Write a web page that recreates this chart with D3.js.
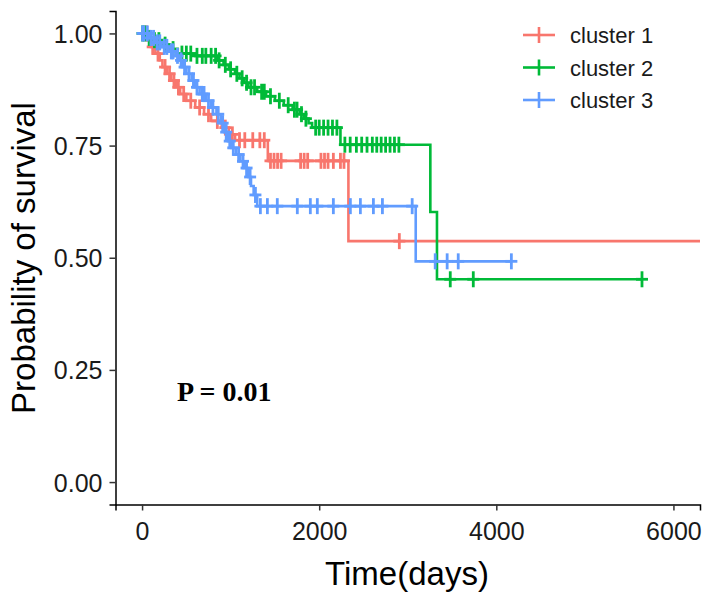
<!DOCTYPE html>
<html>
<head>
<meta charset="utf-8">
<script src="https://cdn.jsdelivr.net/npm/d3@7"></script>
<style>
  html, body { margin: 0; padding: 0; background: #fff; }
  svg { display: block; font-family: "Liberation Sans", Arial, sans-serif; }
</style>
</head>
<body>
<svg id="chart" width="715" height="605"></svg>
<script>
// ---------------- data ----------------
const clusterNames = ["cluster 1", "cluster 2", "cluster 3"];
const clusterColors = ["#F8766D", "#00BA38", "#619CFF"];

const xTicks = [0, 2000, 4000, 6000];
const xTickLabels = ["0", "2000", "4000", "6000"];
const yTicks = [0, 0.25, 0.5, 0.75, 1.0];
const yTickLabels = ["0.00", "0.25", "0.50", "0.75", "1.00"];

// cluster 1 (red)
const c1Times = [0, 60, 100, 150, 200, 230, 280, 330, 380, 430, 500, 600, 700, 780, 900, 980, 1050, 1420, 2330];
const c1Surv  = [1, 0.985, 0.97, 0.955, 0.94, 0.925, 0.91, 0.895, 0.88, 0.865, 0.85, 0.835, 0.82, 0.805, 0.79, 0.775, 0.762, 0.716, 0.537];
const c1End = 6300;
const c1Censor = [50, 120, 180, 260, 310, 360, 410, 470, 550, 650, 750, 850, 940, 1020, 1100, 1160, 1250, 1330, 1380,
                  1450, 1490, 1530, 1570, 1790, 1830, 1870, 2020, 2060, 2100, 2160, 2240, 2280, 2905];

// cluster 2 (green)
const c2Times = [0, 50, 120, 200, 300, 400, 600, 850, 920, 980, 1050, 1100, 1150, 1200, 1300, 1400, 1500, 1600, 1700, 1780, 1830, 1880, 1920, 2240, 3255, 3330];
const c2Surv  = [1, 0.99, 0.985, 0.975, 0.965, 0.955, 0.95, 0.94, 0.93, 0.92, 0.91, 0.90, 0.89, 0.88, 0.87, 0.86, 0.85, 0.84, 0.83, 0.82, 0.81, 0.80, 0.79, 0.752, 0.602, 0.452];
const c2End = 5645;
const c2Censor = [5, 30, 80, 140, 190, 260, 350, 450, 500, 550, 620, 680, 720, 780, 830, 870, 940, 1000, 1070, 1130, 1180,
                  1230, 1270, 1350, 1380, 1450, 1550, 1650, 1720, 1750, 1800, 1850, 1960, 2000, 2050, 2100, 2150, 2200,
                  2290, 2350, 2420, 2480, 2540, 2600, 2650, 2700, 2750, 2800, 2850, 2900, 3480, 3740, 5645];

// cluster 3 (blue)
const c3Times = [0, 80, 150, 220, 300, 380, 420, 460, 500, 560, 600, 650, 720, 780, 840, 890, 930, 970, 1010, 1060, 1110, 1160, 1200, 1230, 1260, 1300, 3090];
const c3Surv  = [1, 0.99, 0.98, 0.97, 0.96, 0.95, 0.94, 0.925, 0.91, 0.895, 0.88, 0.865, 0.85, 0.835, 0.82, 0.80, 0.78, 0.76, 0.745, 0.73, 0.715, 0.70, 0.68, 0.66, 0.64, 0.615, 0.492];
const c3End = 4170;
const c3Censor = [5, 20, 60, 100, 130, 170, 200, 250, 280, 330, 350, 400, 440, 480, 530, 580, 620, 680, 700, 750, 800, 860,
                  910, 950, 990, 1030, 1090, 1140, 1180, 1220, 1280, 1336, 1415, 1527, 1753, 1900, 1979, 2160, 2352,
                  2465, 2612, 2714, 3050, 3310, 3445, 3570, 4170];

const pLabel = "P = 0.01";

// ---------------- chart ----------------
const series = [
  { times: c1Times, surv: c1Surv, end: c1End, censor: c1Censor },
  { times: c2Times, surv: c2Surv, end: c2End, censor: c2Censor },
  { times: c3Times, surv: c3Surv, end: c3End, censor: c3Censor }
];

const svg = d3.select("#chart");
const x = d3.scaleLinear().domain([-300, 6300]).range([115.5, 700]);
const y = d3.scaleLinear().domain([-0.05, 1.05]).range([504.5, 11]);

const stepLine = d3.line().x(d => x(d[0])).y(d => y(d[1])).curve(d3.curveStepAfter);

function survAt(s, t) {
  let v = s.surv[0];
  for (let i = 0; i < s.times.length; i++) { if (s.times[i] <= t) v = s.surv[i]; }
  return v;
}

const plot = svg.append("g");
series.forEach((s, i) => {
  const pts = s.times.map((t, k) => [t, s.surv[k]]);
  pts.push([s.end, s.surv[s.surv.length - 1]]);
  plot.append("path").attr("d", stepLine(pts))
    .attr("fill", "none").attr("stroke", clusterColors[i]).attr("stroke-width", 2.6);
  const g = plot.append("g").attr("stroke", clusterColors[i]).attr("stroke-width", 2.8);
  s.censor.forEach(t => {
    const cx = x(t), cy = y(survAt(s, t));
    g.append("line").attr("x1", cx - 6).attr("x2", cx + 6).attr("y1", cy).attr("y2", cy);
    g.append("line").attr("x1", cx).attr("x2", cx).attr("y1", cy - 8).attr("y2", cy + 8);
  });
});

// axes
const xAxis = d3.axisBottom(x).tickValues(xTicks).tickFormat((d, i) => xTickLabels[i]).tickSizeOuter(0).tickSize(6).tickPadding(11);
const yAxis = d3.axisLeft(y).tickValues(yTicks).tickFormat((d, i) => yTickLabels[i]).tickSizeOuter(0).tickSize(6).tickPadding(7);

const gx = svg.append("g").attr("transform", "translate(0,504.5)").call(xAxis);
const gy = svg.append("g").attr("transform", "translate(115.5,0)").call(yAxis);
[gx, gy].forEach(g => {
  g.select(".domain").attr("stroke", "#000").attr("stroke-width", 1.5);
  g.selectAll(".tick line").attr("stroke", "#333").attr("stroke-width", 1.5);
  g.selectAll(".tick text").attr("fill", "#1a1a1a").style("font-size", "25px")
    .style("font-family", "'Liberation Sans', Arial, sans-serif");
});
gy.selectAll(".tick text").attr("dy", "0.36em");
gx.selectAll(".tick text").attr("dy", "0.72em");

// axis titles
svg.append("text").attr("x", 407).attr("y", 585).attr("text-anchor", "middle")
  .style("font-size", "33px").attr("fill", "#000").text("Time(days)");
svg.append("text").attr("transform", "translate(35,258) rotate(-90)").attr("text-anchor", "middle")
  .style("font-size", "33px").attr("fill", "#000").text("Probability of survival");

// p-value
svg.append("text").attr("x", 177).attr("y", 401).style("font-family", "'Liberation Serif', 'Times New Roman', serif")
  .style("font-weight", "bold").style("font-size", "28px").attr("fill", "#000").text(pLabel);

// legend
const leg = svg.append("g");
clusterNames.forEach((name, i) => {
  const cy = 35 + i * 32.5;
  leg.append("line").attr("x1", 523).attr("x2", 555).attr("y1", cy).attr("y2", cy)
    .attr("stroke", clusterColors[i]).attr("stroke-width", 2.6);
  leg.append("line").attr("x1", 539).attr("x2", 539).attr("y1", cy - 8).attr("y2", cy + 8)
    .attr("stroke", clusterColors[i]).attr("stroke-width", 2.6);
  leg.append("text").attr("x", 570).attr("y", cy + 8).style("font-size", "22px").attr("fill", "#1a1a1a").text(name);
});
</script>
</body>
</html>
